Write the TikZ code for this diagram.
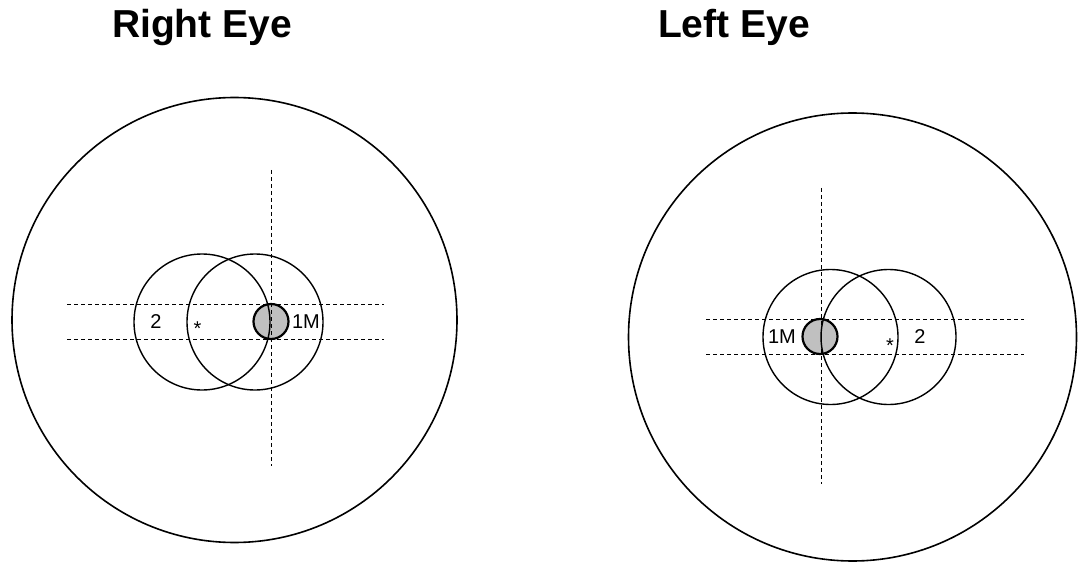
\documentclass[tikz,border=0pt]{standalone}
\usepackage{fontspec}
\setmainfont{Liberation Sans}
\definecolor{discgray}{RGB}{192,192,192}
\begin{document}
\begin{tikzpicture}[x=1pt,y=-1pt,
  eyeline/.style={line width=1.6pt},
  zone/.style={line width=1.4pt},
  guide/.style={line width=0.9pt, dash pattern=on 4pt off 3pt},
  disc/.style={line width=2.2pt},
  lbl/.style={inner sep=0pt, font=\fontsize{20}{24}\selectfont},
  ttl/.style={inner sep=0pt, anchor=base, font=\fontsize{39}{46}\selectfont\bfseries}]
\useasboundingbox[fill=white] (0,0) rectangle (1079,564);

% ---------- Right eye ----------
\coordinate (Rc) at (234.5,320);
\coordinate (Rvt) at (271,170);  \coordinate (Rvb) at (271,466);
\coordinate (Rh1l) at (67,304);  \coordinate (Rh1r) at (384,304);
\coordinate (Rh2l) at (67,339);  \coordinate (Rh2r) at (384,339);
\coordinate (Ra) at (202,322);   \coordinate (Rb) at (255,322);
\coordinate (Rd) at (271,321.5);

\fill[discgray] (Rd) circle[radius=17.5pt];
\draw[eyeline] (Rc) circle[radius=222.5pt];
\draw[guide] (Rvt) -- (Rvb);
\draw[guide] (Rh1l) -- (Rh1r);
\draw[guide] (Rh2l) -- (Rh2r);
\draw[zone] (Ra) circle[radius=68pt];
\draw[zone] (Rb) circle[radius=68pt];
\draw[disc] (Rd) circle[radius=17.5pt];
\node[lbl] (R2) at (156,322) {2};
\node[lbl, anchor=base] (Rstar) at (197.5,335) {*};
\node[lbl] (R1M) at (306,322) {1M};
\node[ttl] (Rt) at (202,37.5) {Right Eye};

% ---------- Left eye ----------
\coordinate (Lc) at (852.5,337);
\coordinate (Lvt) at (821,188);  \coordinate (Lvb) at (821,484);
\coordinate (Lh1l) at (706,319); \coordinate (Lh1r) at (1024,319);
\coordinate (Lh2l) at (706,354); \coordinate (Lh2r) at (1024,354);
\coordinate (La) at (830.5,337); \coordinate (Lb) at (888.5,337);
\coordinate (Ld) at (820,336.5);

\fill[discgray] (Ld) circle[radius=17.5pt];
\draw[eyeline] (Lc) circle[radius=224pt];
\draw[guide] (Lvt) -- (Lvb);
\draw[guide] (Lh1l) -- (Lh1r);
\draw[guide] (Lh2l) -- (Lh2r);
\draw[zone] (La) circle[radius=67.5pt];
\draw[zone] (Lb) circle[radius=67.5pt];
\draw[disc] (Ld) circle[radius=17.5pt];
\node[lbl] (L1M) at (782,336.5) {1M};
\node[lbl, anchor=base] (Lstar) at (890,352) {*};
\node[lbl] (L2) at (920,336.5) {2};
\node[ttl] (Lt) at (734,38) {Left Eye};
\end{tikzpicture}
\end{document}
